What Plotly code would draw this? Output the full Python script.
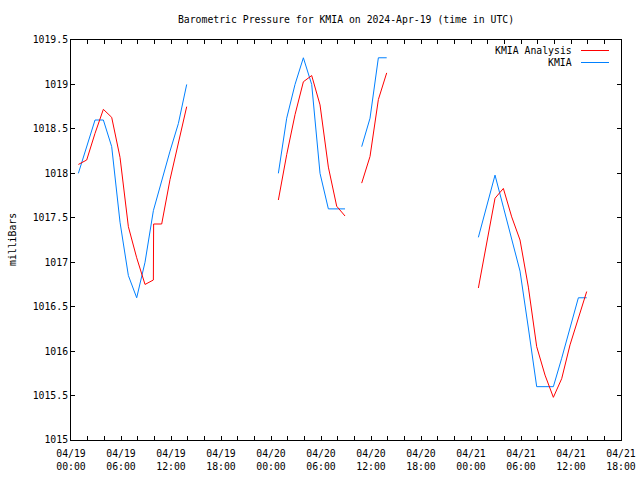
import plotly.graph_objects as go

# ---- data -------------------------------------------------------------
title_text = "Barometric Pressure for KMIA on 2024-Apr-19 (time in UTC)"
y_title = "milliBars"

kmia_times = [
    "2024-04-19 00:53", "2024-04-19 01:53", "2024-04-19 02:53", "2024-04-19 03:53",
    "2024-04-19 04:53", "2024-04-19 05:53", "2024-04-19 06:53", "2024-04-19 07:53",
    "2024-04-19 08:53", "2024-04-19 09:53", "2024-04-19 10:53", "2024-04-19 11:53",
    "2024-04-19 12:53", "2024-04-19 13:53", None,
    "2024-04-20 00:53", "2024-04-20 01:53", "2024-04-20 02:53", "2024-04-20 03:53",
    "2024-04-20 04:53", "2024-04-20 05:53", "2024-04-20 06:53", "2024-04-20 07:53",
    "2024-04-20 08:53", None,
    "2024-04-20 10:53", "2024-04-20 11:53", "2024-04-20 12:53", "2024-04-20 13:53", None,
    "2024-04-21 00:53", "2024-04-21 01:53", "2024-04-21 02:53", "2024-04-21 03:53",
    "2024-04-21 04:53", "2024-04-21 05:53", "2024-04-21 06:53", "2024-04-21 07:53",
    "2024-04-21 08:53", "2024-04-21 09:53", "2024-04-21 10:53", "2024-04-21 11:53",
    "2024-04-21 12:53", "2024-04-21 13:53",
]
kmia_values = [
    1018.0, 1018.3, 1018.6, 1018.6, 1018.3, 1017.45, 1016.85, 1016.6,
    1017.0, 1017.58, 1017.92, 1018.25, 1018.56, 1019.0, None,
    1018.0, 1018.62, 1019.0, 1019.3, 1019.0, 1018.0, 1017.6, 1017.6, 1017.6, None,
    1018.3, 1018.62, 1019.3, 1019.3, None,
    1017.28, 1017.62, 1017.98, 1017.62, 1017.26, 1016.9, 1016.26, 1015.6,
    1015.6, 1015.6, 1015.92, 1016.26, 1016.6, 1016.6,
]

analysis_times = [
    "2024-04-19 00:53", "2024-04-19 01:53", "2024-04-19 02:53", "2024-04-19 03:53",
    "2024-04-19 04:53", "2024-04-19 05:53", "2024-04-19 06:53", "2024-04-19 07:53",
    "2024-04-19 08:53", "2024-04-19 09:53", "2024-04-19 09:55", "2024-04-19 10:53",
    "2024-04-19 11:53", "2024-04-19 12:53", "2024-04-19 13:53", None,
    "2024-04-20 00:53", "2024-04-20 01:53", "2024-04-20 02:53", "2024-04-20 03:53",
    "2024-04-20 04:53", "2024-04-20 05:53", "2024-04-20 06:53", "2024-04-20 07:53",
    "2024-04-20 08:53", None,
    "2024-04-20 10:53", "2024-04-20 11:53", "2024-04-20 12:53", "2024-04-20 13:53", None,
    "2024-04-21 00:53", "2024-04-21 01:53", "2024-04-21 02:53", "2024-04-21 03:53",
    "2024-04-21 04:53", "2024-04-21 05:53", "2024-04-21 06:53", "2024-04-21 07:53",
    "2024-04-21 08:53", "2024-04-21 09:53", "2024-04-21 10:53", "2024-04-21 11:53",
    "2024-04-21 12:53", "2024-04-21 13:53",
]
analysis_values = [
    1018.1, 1018.15, 1018.45, 1018.72, 1018.63, 1018.18, 1017.4, 1017.05,
    1016.75, 1016.8, 1017.43, 1017.43, 1017.93, 1018.35, 1018.75, None,
    1017.7, 1018.21, 1018.66, 1019.03, 1019.1, 1018.77, 1018.07, 1017.63, 1017.52, None,
    1017.89, 1018.19, 1018.83, 1019.13, None,
    1016.71, 1017.22, 1017.72, 1017.83, 1017.51, 1017.25, 1016.72, 1016.05,
    1015.73, 1015.48, 1015.69, 1016.07, 1016.38, 1016.67,
]

x_tick_times = [
    "2024-04-19 00:00", "2024-04-19 06:00", "2024-04-19 12:00", "2024-04-19 18:00",
    "2024-04-20 00:00", "2024-04-20 06:00", "2024-04-20 12:00", "2024-04-20 18:00",
    "2024-04-21 00:00", "2024-04-21 06:00", "2024-04-21 12:00", "2024-04-21 18:00",
]
x_tick_labels = [
    "04/19<br>00:00", "04/19<br>06:00", "04/19<br>12:00", "04/19<br>18:00",
    "04/20<br>00:00", "04/20<br>06:00", "04/20<br>12:00", "04/20<br>18:00",
    "04/21<br>00:00", "04/21<br>06:00", "04/21<br>12:00", "04/21<br>18:00",
]
y_tick_values = [1015, 1015.5, 1016, 1016.5, 1017, 1017.5, 1018, 1018.5, 1019, 1019.5]
y_tick_labels = ["1015", "1015.5", "1016", "1016.5", "1017", "1017.5",
                 "1018", "1018.5", "1019", "1019.5"]

series_names = ["KMIA Analysis", "KMIA"]
series_colors = ["#ff0000", "#0080ff"]

# ---- figure -----------------------------------------------------------
FONT = "DejaVu Sans Mono"
FS = 9.8
W, H = 640, 480
# plot frame at window x 71..621, y 40..440
ML, MT, MR, MB = 71, 40, 19, 40
PW, PH = W - ML - MR, H - MT - MB

fig = go.Figure()
fig.add_trace(go.Scatter(x=kmia_times, y=kmia_values, mode="lines",
                         name=series_names[1], connectgaps=False,
                         line=dict(color=series_colors[1], width=1)))
fig.add_trace(go.Scatter(x=analysis_times, y=analysis_values, mode="lines",
                         name=series_names[0], connectgaps=False,
                         line=dict(color=series_colors[0], width=1)))

fig.update_layout(
    width=W, height=H,
    margin=dict(l=ML, r=MR, t=MT, b=MB, autoexpand=False),
    paper_bgcolor="white", plot_bgcolor="white",
    showlegend=False,
    font=dict(family=FONT, size=FS, color="black"),
    title=dict(text=title_text, x=0.5, xref="paper", y=1 - 20 / H,
               yanchor="middle", xanchor="center",
               font=dict(family=FONT, size=FS, color="black")),
)

fig.update_xaxes(
    type="date", automargin=False,
    range=[x_tick_times[0], x_tick_times[-1]],
    tickmode="array", tickvals=x_tick_times, ticktext=x_tick_labels,
    ticks="inside", ticklen=4, tickwidth=1, tickcolor="black",
    ticklabelstandoff=4, ticklabeloverflow="allow",
    minor=dict(tickmode="linear", tick0=x_tick_times[0], dtick=2 * 3600 * 1000,
               ticks="inside", ticklen=4, tickcolor="black", showgrid=False),
    showline=True, linecolor="black", linewidth=1, mirror="allticks",
    showgrid=False, zeroline=False,
    tickfont=dict(family=FONT, size=FS, color="black"),
)
fig.update_yaxes(
    automargin=False,
    range=[1015, 1019.5],
    tickmode="array", tickvals=y_tick_values, ticktext=y_tick_labels,
    ticks="inside", ticklen=4, tickwidth=1, tickcolor="black",
    showline=True, linecolor="black", linewidth=1, mirror="allticks",
    showgrid=False, zeroline=False,
    tickfont=dict(family=FONT, size=FS, color="black"),
)

# y-axis title as rotated text (window x ~12)
fig.add_annotation(xref="paper", yref="paper", x=-(ML - 12) / PW, y=0.5,
                   text=y_title, textangle=-90, showarrow=False,
                   xanchor="center", yanchor="middle",
                   font=dict(family=FONT, size=FS, color="black"))

# gnuplot-style key (text left of sample line)
key_rows = [(440 - 50.5) / PH, (440 - 62.5) / PH]
for name, color, yy in zip(series_names, series_colors, key_rows):
    fig.add_annotation(xref="paper", yref="paper", x=(574 - ML) / PW, y=yy,
                       text=name, showarrow=False, xanchor="right", yanchor="middle",
                       font=dict(family=FONT, size=FS, color="black"))
    fig.add_shape(type="line", xref="paper", yref="paper",
                  x0=(581 - ML) / PW, x1=(609 - ML) / PW, y0=yy, y1=yy,
                  line=dict(color=color, width=1))

fig.write_html(
    "out.html",
    config={"displayModeBar": False},
    post_script="document.body.style.margin='0px';document.body.style.overflow='hidden';",
)
